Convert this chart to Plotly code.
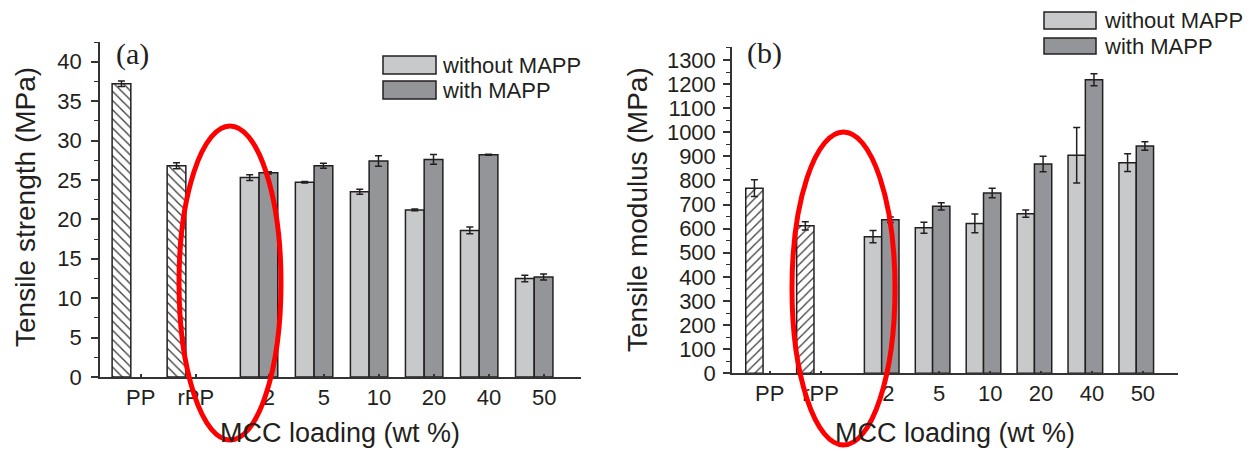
import plotly.graph_objects as go

# ---------------- data ----------------
categories = ["PP", "rPP", "2", "5", "10", "20", "40", "50"]
neat_labels = ["PP", "rPP"]
mcc_labels = ["2", "5", "10", "20", "40", "50"]

# (a) tensile strength (MPa)
neat_strength = [37.2, 26.8]
neat_strength_err = [0.36, 0.38]
strength_without = [25.3, 24.7, 23.5, 21.2, 18.6, 12.5]
strength_without_err = [0.36, 0.1, 0.32, 0.1, 0.42, 0.42]
strength_with = [25.9, 26.8, 27.4, 27.6, 28.2, 12.7]
strength_with_err = [0.15, 0.32, 0.66, 0.62, 0.06, 0.38]

# (b) tensile modulus (MPa)
neat_modulus = [768, 612]
neat_modulus_err = [35, 17]
modulus_without = [567, 604, 622, 662, 905, 874]
modulus_without_err = [25, 23, 39, 15, 115, 37]
modulus_with = [637, 693, 748, 868, 1218, 943]
modulus_with_err = [11, 15, 20, 32, 25, 18]

# ---------------- layout helpers ----------------
W, H = 1259, 451
positions = [0, 1, 2.33, 3.33, 4.33, 5.33, 6.33, 7.33]
pos = dict(zip(categories, positions))

def px(x):
    return x / W

def py(y):
    return 1 - y / H

TEXT = "#231f20"
LINE = "#231f20"
LIGHT = "#c8c9cb"
DARK = "#939598"
FONT = "Arial, Liberation Sans, sans-serif"

fig = go.Figure()

def add_panel(xa, ya, neat, neat_err, wo, wo_err, wi, wi_err, hatch):
    fig.add_trace(go.Bar(
        x=[pos[c] for c in neat_labels], y=neat, name="neat",
        offsetgroup="A", xaxis=xa, yaxis=ya, showlegend=False,
        marker=dict(color="white", line=dict(color=LINE, width=1.5),
                    pattern=dict(shape=hatch, fgcolor="#3a3a3a", bgcolor="white",
                                 size=6.5, solidity=0.2, fillmode="replace")),
        error_y=dict(type="data", array=neat_err, color=LINE, thickness=1.5, width=3.5),
    ))
    fig.add_trace(go.Bar(
        x=[pos[c] for c in mcc_labels], y=wo, name="without MAPP",
        offsetgroup="A", xaxis=xa, yaxis=ya, showlegend=False,
        marker=dict(color=LIGHT, line=dict(color=LINE, width=1.5)),
        error_y=dict(type="data", array=wo_err, color=LINE, thickness=1.5, width=3.5),
    ))
    fig.add_trace(go.Bar(
        x=[pos[c] for c in mcc_labels], y=wi, name="with MAPP",
        offsetgroup="B", xaxis=xa, yaxis=ya, showlegend=False,
        marker=dict(color=DARK, line=dict(color=LINE, width=1.5)),
        error_y=dict(type="data", array=wi_err, color=LINE, thickness=1.5, width=3.5),
    ))

add_panel("x", "y", neat_strength, neat_strength_err, strength_without,
          strength_without_err, strength_with, strength_with_err, "\\")
add_panel("x2", "y2", neat_modulus, neat_modulus_err, modulus_without,
          modulus_without_err, modulus_with, modulus_with_err, "/")

common_x = dict(showline=True, linecolor="#333333", linewidth=1.5, showgrid=False,
                zeroline=False, ticktext=categories, ticks="inside", ticklen=3,
                tickwidth=1.5, tickcolor="#333333", automargin=False,
                tickfont=dict(family=FONT, size=22, color=TEXT))
common_y = dict(showline=True, linecolor="#333333", linewidth=1.5, showgrid=False,
                zeroline=False, ticks="outside", ticklen=7, tickwidth=1.5,
                tickcolor="#333333", tick0=0, automargin=False,
                tickfont=dict(family=FONT, size=22, color=TEXT))

fig.update_layout(
    width=W, height=H, autosize=False,
    margin=dict(l=0, r=0, t=0, b=0, autoexpand=False),
    paper_bgcolor="white", plot_bgcolor="white",
    barmode="group", bargap=0.32, bargroupgap=0,
    showlegend=False,
    xaxis=dict(common_x, domain=[px(100), px(581)], range=[-0.56, 8.18],
               tickvals=[p + 0.18 for p in positions], anchor="y"),
    yaxis=dict(common_y, domain=[py(377), py(42)], range=[0, 42.5], dtick=5,
               ticklabelstandoff=5, anchor="x",
               minor=dict(dtick=2.5, ticks="outside", ticklen=4, tickwidth=1.2,
                          tickcolor="#333333")),
    xaxis2=dict(common_x, domain=[px(732), px(1178)], range=[-0.61, 8.15],
                tickvals=[p + 0.13 for p in positions], anchor="y2"),
    yaxis2=dict(common_y, domain=[py(373.3), py(46.7)], range=[0, 1355], dtick=100,
                ticklabelstandoff=3, anchor="x2",
                minor=dict(dtick=50, ticks="outside", ticklen=4, tickwidth=1.2,
                           tickcolor="#333333")),
)

annotations = []
shapes = []

def text(x, y, s, size, angle=0, family=FONT, xanchor="center"):
    annotations.append(dict(x=px(x), y=py(y), xref="paper", yref="paper", text=s,
                            showarrow=False, textangle=angle, xanchor=xanchor,
                            yanchor="middle",
                            font=dict(family=family, size=size, color=TEXT)))

# panel labels
text(132, 54, "(a)", 30, family="Times New Roman, Liberation Serif, serif")
text(764, 53, "(b)", 30, family="Times New Roman, Liberation Serif, serif")
# axis titles
text(25, 207, "Tensile strength (MPa)", 28, angle=-90)
text(638, 210, "Tensile modulus (MPa)", 28, angle=-90)
text(340, 433, "MCC loading (wt %)", 27)
text(955, 433, "MCC loading (wt %)", 27)

# legends
def legend(x0, x1, y_rows, tx):
    for (ya, yb), col, lab in zip(y_rows, [LIGHT, DARK], ["without MAPP", "with MAPP"]):
        shapes.append(dict(type="rect", xref="paper", yref="paper",
                           x0=px(x0), x1=px(x1), y0=py(yb), y1=py(ya),
                           fillcolor=col, line=dict(color=LINE, width=1.5)))
        text(tx, (ya + yb) / 2, lab, 22, xanchor="left")

legend(383, 436, [(56, 74), (81, 99)], 440)
legend(1044, 1096, [(12, 29), (38, 54)], 1102)

# red highlight ellipses
shapes.append(dict(type="circle", xref="paper", yref="paper",
                   x0=px(179), x1=px(281), y0=py(440), y1=py(126),
                   line=dict(color="#ff0000", width=5)))
shapes.append(dict(type="circle", xref="paper", yref="paper",
                   x0=px(792), x1=px(895), y0=py(445), y1=py(132),
                   line=dict(color="#ff0000", width=5)))

fig.update_layout(annotations=annotations, shapes=shapes)
fig.write_html(
    "out.html",
    config={"displayModeBar": False, "responsive": False},
    post_script=("document.documentElement.style.margin='0';"
                 "document.body.style.margin='0';"
                 "document.body.style.overflow='hidden';"
                 "document.documentElement.style.overflow='hidden';"),
)
